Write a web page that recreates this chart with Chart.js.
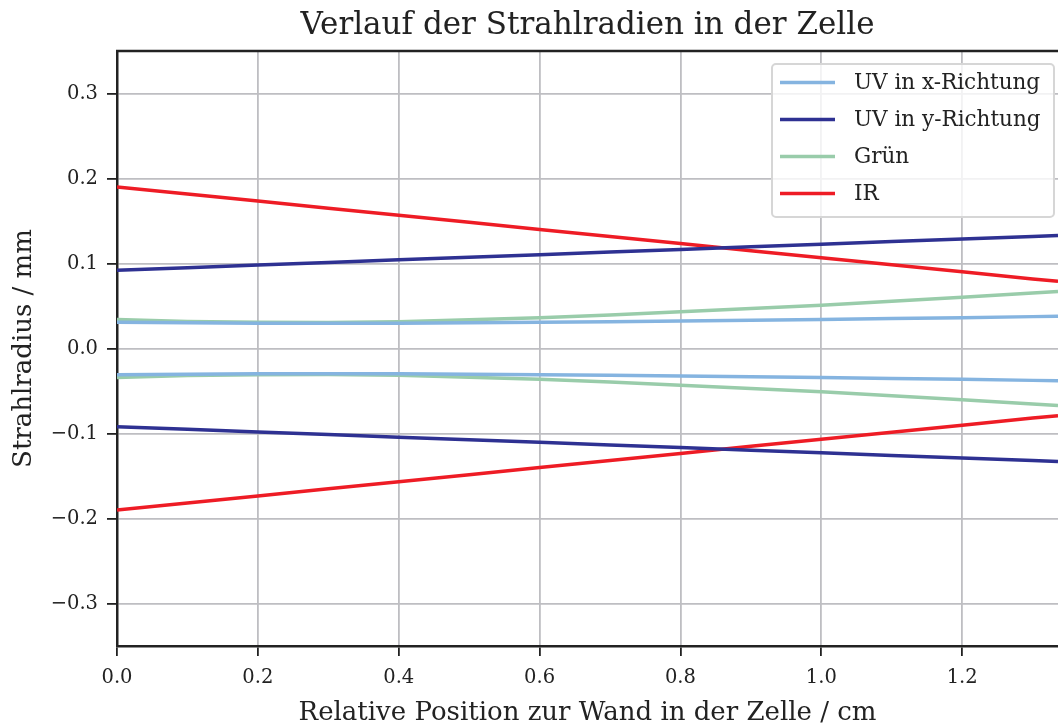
<!DOCTYPE html>
<html><head><meta charset="utf-8">
<script src="https://cdn.jsdelivr.net/npm/chart.js@4/dist/chart.umd.min.js"></script>
<style>html,body{margin:0;padding:0;background:#fff}#wrap{width:1058px;height:726px}</style>
</head><body><div id="wrap"><canvas id="c" width="1058" height="726"></canvas></div>
<script>
// ---- data ----
const positions = [0, 0.1, 0.2, 0.3, 0.4, 0.5, 0.6, 0.7, 0.8, 0.9, 1.0, 1.1, 1.2, 1.3, 1.336];
const uvxUpper = [0.0310, 0.0302, 0.0298, 0.0297, 0.0298, 0.0302, 0.0308, 0.0315, 0.0323, 0.0332, 0.0342, 0.0352, 0.0363, 0.0375, 0.0380];
const uvxLower = [-0.0310, -0.0302, -0.0298, -0.0297, -0.0298, -0.0302, -0.0308, -0.0315, -0.0323, -0.0332, -0.0342, -0.0352, -0.0363, -0.0375, -0.0380];
const uvyUpper = [0.0920, 0.0951, 0.0981, 0.1012, 0.1043, 0.1074, 0.1104, 0.1135, 0.1166, 0.1196, 0.1227, 0.1258, 0.1288, 0.1319, 0.1330];
const uvyLower = [-0.0920, -0.0951, -0.0981, -0.1012, -0.1043, -0.1074, -0.1104, -0.1135, -0.1166, -0.1196, -0.1227, -0.1258, -0.1288, -0.1319, -0.1330];
const gruenUpper = [0.0340, 0.0318, 0.0308, 0.0307, 0.0316, 0.0338, 0.0363, 0.0395, 0.0432, 0.0470, 0.0510, 0.0555, 0.0602, 0.0652, 0.0670];
const gruenLower = [-0.0340, -0.0318, -0.0308, -0.0307, -0.0316, -0.0338, -0.0363, -0.0395, -0.0432, -0.0470, -0.0510, -0.0555, -0.0602, -0.0652, -0.0670];
const irUpper = [0.190, 0.1817, 0.1734, 0.1650, 0.1567, 0.1484, 0.1401, 0.1318, 0.1234, 0.1151, 0.1068, 0.0985, 0.0902, 0.0818, 0.0790];
const irLower = [-0.190, -0.1817, -0.1734, -0.1650, -0.1567, -0.1484, -0.1401, -0.1318, -0.1234, -0.1151, -0.1068, -0.0985, -0.0902, -0.0818, -0.0790];
const seriesLabels = ['UV in x-Richtung', 'UV in y-Richtung', 'Grün', 'IR'];
const seriesColors = ['#85b4e0', '#2e3192', '#99ccaa', '#ee1c25'];
const xTicks = [0, 0.2, 0.4, 0.6, 0.8, 1.0, 1.2];
const yTicks = [-0.3, -0.2, -0.1, 0, 0.1, 0.2, 0.3];
const titleText = 'Verlauf der Strahlradien in der Zelle';
const xTitle = 'Relative Position zur Wand in der Zelle / cm';
const yTitle = 'Strahlradius / mm';

const FONT = '"DejaVu Serif", serif';
const pts = arr => arr.map((v, i) => ({x: positions[i], y: v}));
const pairs = [[uvxUpper, uvxLower], [uvyUpper, uvyLower], [gruenUpper, gruenLower], [irUpper, irLower]];
const datasets = [];
pairs.forEach((p, k) => {
  p.forEach(arr => datasets.push({
    label: seriesLabels[k], data: pts(arr), borderColor: seriesColors[k],
    borderWidth: 3.5, pointRadius: 0, tension: 0, fill: false
  }));
});
const fmt = v => (v < -1e-9 ? '\u2212' : '') + Math.abs(v).toFixed(1);

const deco = {
  id: 'deco',
  afterDraw(chart) {
    const ctx = chart.ctx, a = chart.chartArea;
    ctx.save();
    // top spine
    ctx.strokeStyle = '#222'; ctx.lineWidth = 2.5;
    ctx.beginPath(); ctx.moveTo(a.left - 1, a.top); ctx.lineTo(a.right, a.top); ctx.stroke();
    // title
    ctx.fillStyle = '#222'; ctx.font = '31px ' + FONT;
    ctx.textAlign = 'center'; ctx.textBaseline = 'alphabetic';
    ctx.fillText(titleText, (a.left + a.right) / 2, 34);
    // legend
    const bx = 772, by = 64, bw = 282, bh = 153;
    ctx.fillStyle = 'rgba(255,255,255,0.8)'; ctx.strokeStyle = '#d6d6d6'; ctx.lineWidth = 2;
    ctx.beginPath(); ctx.roundRect(bx, by, bw, bh, 4); ctx.fill(); ctx.stroke();
    ctx.font = '21.5px ' + FONT; ctx.textAlign = 'left'; ctx.textBaseline = 'middle';
    seriesLabels.forEach((lab, i) => {
      const y = 82.5 + i * 37;
      ctx.strokeStyle = seriesColors[i]; ctx.lineWidth = 3.5;
      ctx.beginPath(); ctx.moveTo(780, y); ctx.lineTo(835, y); ctx.stroke();
      ctx.fillStyle = '#222'; ctx.fillText(lab, 854, y + 1);
    });
    ctx.restore();
  }
};

new Chart(document.getElementById('c'), {
  type: 'line',
  data: {datasets},
  plugins: [deco],
  options: {
    responsive: false, animation: false, devicePixelRatio: 1,
    layout: {padding: {top: 51, right: 0, left: 0, bottom: 0}},
    plugins: {legend: {display: false}, title: {display: false}, tooltip: {enabled: false}},
    scales: {
      x: {
        type: 'linear', min: 0, max: 1.336,
        afterBuildTicks: s => { s.ticks = xTicks.map(v => ({value: v})); },
        afterFit: s => { s.height = 80; },
        grid: {color: '#bebec2', lineWidth: 1.8, drawTicks: true, tickLength: 10, tickColor: '#222', tickWidth: 1.8},
        border: {display: true, color: '#222', width: 2.5},
        ticks: {callback: fmt, color: '#222', font: {family: FONT, size: 19.5}, padding: 10, maxRotation: 0, autoSkip: false},
        title: {display: true, text: xTitle, color: '#222', font: {family: FONT, size: 26, lineHeight: 1}, padding: {top: 0, bottom: 0}}
      },
      y: {
        type: 'linear', min: -0.35, max: 0.35,
        afterBuildTicks: s => { s.ticks = yTicks.map(v => ({value: v})); },
        afterFit: s => { s.width = 117; },
        grid: {color: '#bebec2', lineWidth: 1.8, drawTicks: true, tickLength: 10, tickColor: '#222', tickWidth: 1.8},
        border: {display: true, color: '#222', width: 2.5},
        ticks: {callback: fmt, color: '#222', font: {family: FONT, size: 19.5}, padding: 9, autoSkip: false},
        title: {display: true, text: yTitle, color: '#222', font: {family: FONT, size: 26, lineHeight: 1}, padding: {top: 11, bottom: 0}}
      }
    }
  }
});
</script></body></html>
